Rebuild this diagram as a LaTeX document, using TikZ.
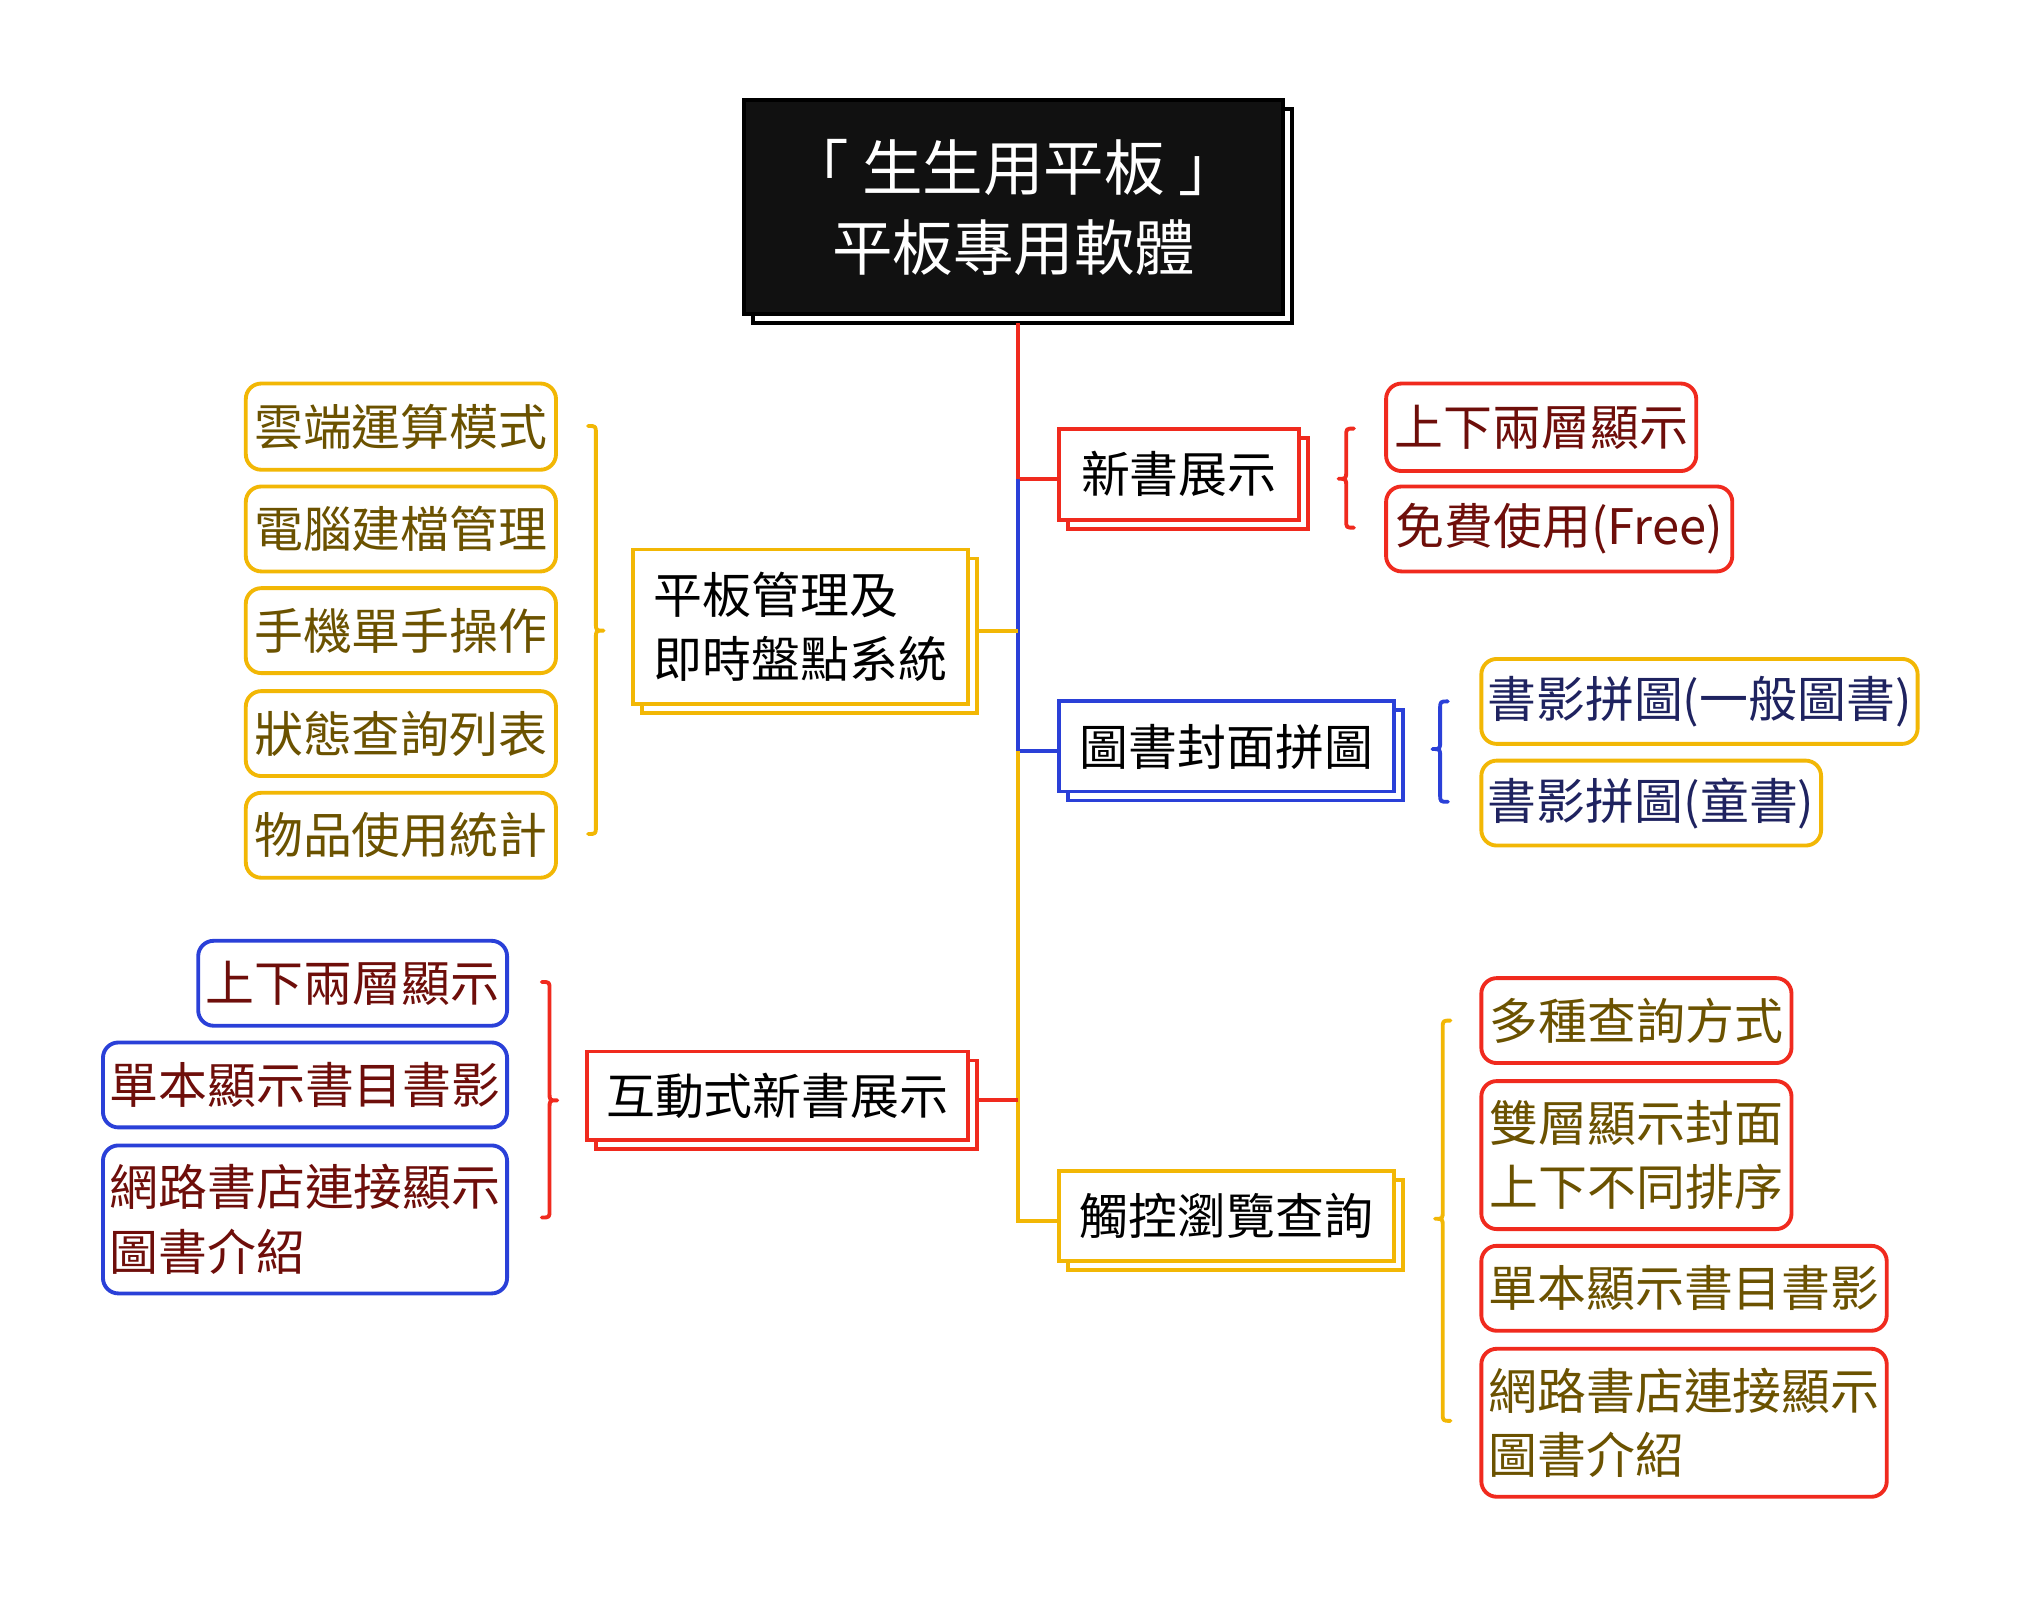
\documentclass[tikz,border=0pt]{standalone}
\usepackage{fontspec}
\setmainfont{Noto Sans CJK TC}
\usetikzlibrary{calc,backgrounds}
\definecolor{cred}{HTML}{F02A1E}
\definecolor{cblue}{HTML}{2A40D8}
\definecolor{cyel}{HTML}{F2B705}
\definecolor{tolive}{HTML}{6B5200}
\definecolor{tmaroon}{HTML}{6E0E0A}
\definecolor{tnavy}{HTML}{1F2360}
\definecolor{rootfill}{HTML}{111111}
\tikzset{
  boxbase/.style={draw, line width=3pt, fill=white, inner sep=0pt, outer sep=0pt,
    anchor=north west, align=left, font=\fontsize{38pt}{50pt}\selectfont},
  mainbox/.style={boxbase, text=black},
  leafbox/.style={boxbase, rounded corners=12pt},
  link/.style={line width=3pt},
  bracestyle/.style={line width=3pt, line cap=round, line join=round},
}
\newcommand\shadowof[2]{%
  \begin{scope}[on background layer]
    \draw[#2, line width=3pt, fill=white] ($(#1.north west)+(7,7)$) rectangle ($(#1.south east)+(7,7)$);
  \end{scope}}
% "}" : tip to the right
\newcommand\bracepointR[5]{%
  \draw[bracestyle,#1] (#2-6,#3) .. controls (#2,#3) .. (#2,#3+6) -- (#2,#5-6)
    .. controls (#2,#5) .. (#2+6,#5) .. controls (#2,#5) .. (#2,#5+6) -- (#2,#4-6)
    .. controls (#2,#4) .. (#2-6,#4);}
% "{" : tip to the left
\newcommand\bracepointL[5]{%
  \draw[bracestyle,#1] (#2+6,#3) .. controls (#2,#3) .. (#2,#3+6) -- (#2,#5-6)
    .. controls (#2,#5) .. (#2-6,#5) .. controls (#2,#5) .. (#2,#5+6) -- (#2,#4-6)
    .. controls (#2,#4) .. (#2+6,#4);}
\begin{document}
\begin{tikzpicture}[x=1pt,y=-1pt]
\begin{scope}[on background layer]
  \fill[white] (0,0) rectangle (1568,1242);
\end{scope}
\useasboundingbox (0,0) rectangle (1568,1242);

% root
\node[draw=black, fill=rootfill, line width=3pt, inner sep=0pt, outer sep=0pt, anchor=north west,
  minimum width=419pt, minimum height=166pt, align=center, text=white,
  font=\fontsize{47pt}{62pt}\selectfont] (root) at (578,78) {「 生生用平板 」\\平板專用軟體};
\shadowof{root}{black}

% main branch boxes
\node[mainbox, draw=cred, minimum width=186pt, minimum height=71pt] (nb) at (823,333) {新書展示};
\shadowof{nb}{cred}
\node[mainbox, draw=cblue, minimum width=260pt, minimum height=70pt] (fm) at (823,545) {圖書封面拼圖};
\shadowof{fm}{cblue}
\node[mainbox, draw=cyel, minimum width=260pt, minimum height=70pt] (ck) at (823,910) {觸控瀏覽查詢};
\shadowof{ck}{cyel}
\node[mainbox, draw=cyel, minimum width=260pt, minimum height=120pt] (pm) at (492,427) {平板管理及\\即時盤點系統};
\shadowof{pm}{cyel}
\node[mainbox, draw=cred, minimum width=296pt, minimum height=69pt] (hd) at (456,817) {互動式新書展示};
\shadowof{hd}{cred}

% leaves: left of pm
\node[leafbox, draw=cyel, text=tolive, minimum width=241pt, minimum height=67pt] (l1) at (191,298) {雲端運算模式};
\node[leafbox, draw=cyel, text=tolive, minimum width=241pt, minimum height=66pt] (l2) at (191,378) {電腦建檔管理};
\node[leafbox, draw=cyel, text=tolive, minimum width=241pt, minimum height=66pt] (l3) at (191,457) {手機單手操作};
\node[leafbox, draw=cyel, text=tolive, minimum width=241pt, minimum height=66pt] (l4) at (191,537) {狀態查詢列表};
\node[leafbox, draw=cyel, text=tolive, minimum width=241pt, minimum height=66pt] (l5) at (191,616) {物品使用統計};

% leaves: right of nb
\node[leafbox, draw=cred, text=tmaroon, minimum width=241pt, minimum height=68pt] (r1) at (1077,298) {上下兩層顯示};
\node[leafbox, draw=cred, text=tmaroon, minimum width=269pt, minimum height=66pt] (r2) at (1077,378) {免費使用(Free)};

% leaves: right of fm
\node[leafbox, draw=cyel, text=tnavy, minimum width=339pt, minimum height=66pt] (b1) at (1151,512) {書影拼圖(一般圖書)};
\node[leafbox, draw=cyel, text=tnavy, minimum width=264pt, minimum height=66pt] (b2) at (1151,591) {書影拼圖(童書)};

% leaves: left of hd
\node[leafbox, draw=cblue, text=tmaroon, minimum width=240pt, minimum height=66pt] (h1) at (154,731) {上下兩層顯示};
\node[leafbox, draw=cblue, text=tmaroon, minimum width=314pt, minimum height=66pt] (h2) at (80,810) {單本顯示書目書影};
\node[leafbox, draw=cblue, text=tmaroon, minimum width=314pt, minimum height=115pt] (h3) at (80,890) {網路書店連接顯示\\圖書介紹};

% leaves: right of ck
\node[leafbox, draw=cred, text=tolive, minimum width=241pt, minimum height=66pt] (c1) at (1151,760) {多種查詢方式};
\node[leafbox, draw=cred, text=tolive, minimum width=241pt, minimum height=115pt] (c2) at (1151,840) {雙層顯示封面\\上下不同排序};
\node[leafbox, draw=cred, text=tolive, minimum width=315pt, minimum height=66pt] (c3) at (1151,968) {單本顯示書目書影};
\node[leafbox, draw=cred, text=tolive, minimum width=315pt, minimum height=115pt] (c4) at (1151,1048) {網路書店連接顯示\\圖書介紹};

% trunk and connectors
\coordinate (t0) at ($(root.south)+(3.5,7)$);
\coordinate (nbj) at ($(nb.west)+(0,3.5)$);
\coordinate (fmj) at ($(fm.west)+(0,3.5)$);
\coordinate (ckj) at ($(ck.west)+(0,3.5)$);
\coordinate (pmj) at ($(pm.east)+(7,3.5)$);
\coordinate (hdj) at ($(hd.east)+(7,3.5)$);
\draw[link, cred] (t0) |- (nbj);
\draw[link, cblue] (t0 |- nbj) |- (fmj);
\draw[link, cyel] (t0 |- fmj) |- (ckj);
\draw[link, cyel] (pmj) -- (t0 |- pmj);
\draw[link, cred] (hdj) -- (t0 |- hdj);

% braces
\bracepointR{cyel}{463}{331}{648}{490}
\bracepointR{cred}{427}{763}{946}{855}
\bracepointL{cred}{1046}{333}{410}{372}
\bracepointL{cblue}{1119}{545}{623}{582}
\bracepointL{cyel}{1121}{793}{1104}{947}
\end{tikzpicture}
\end{document}
